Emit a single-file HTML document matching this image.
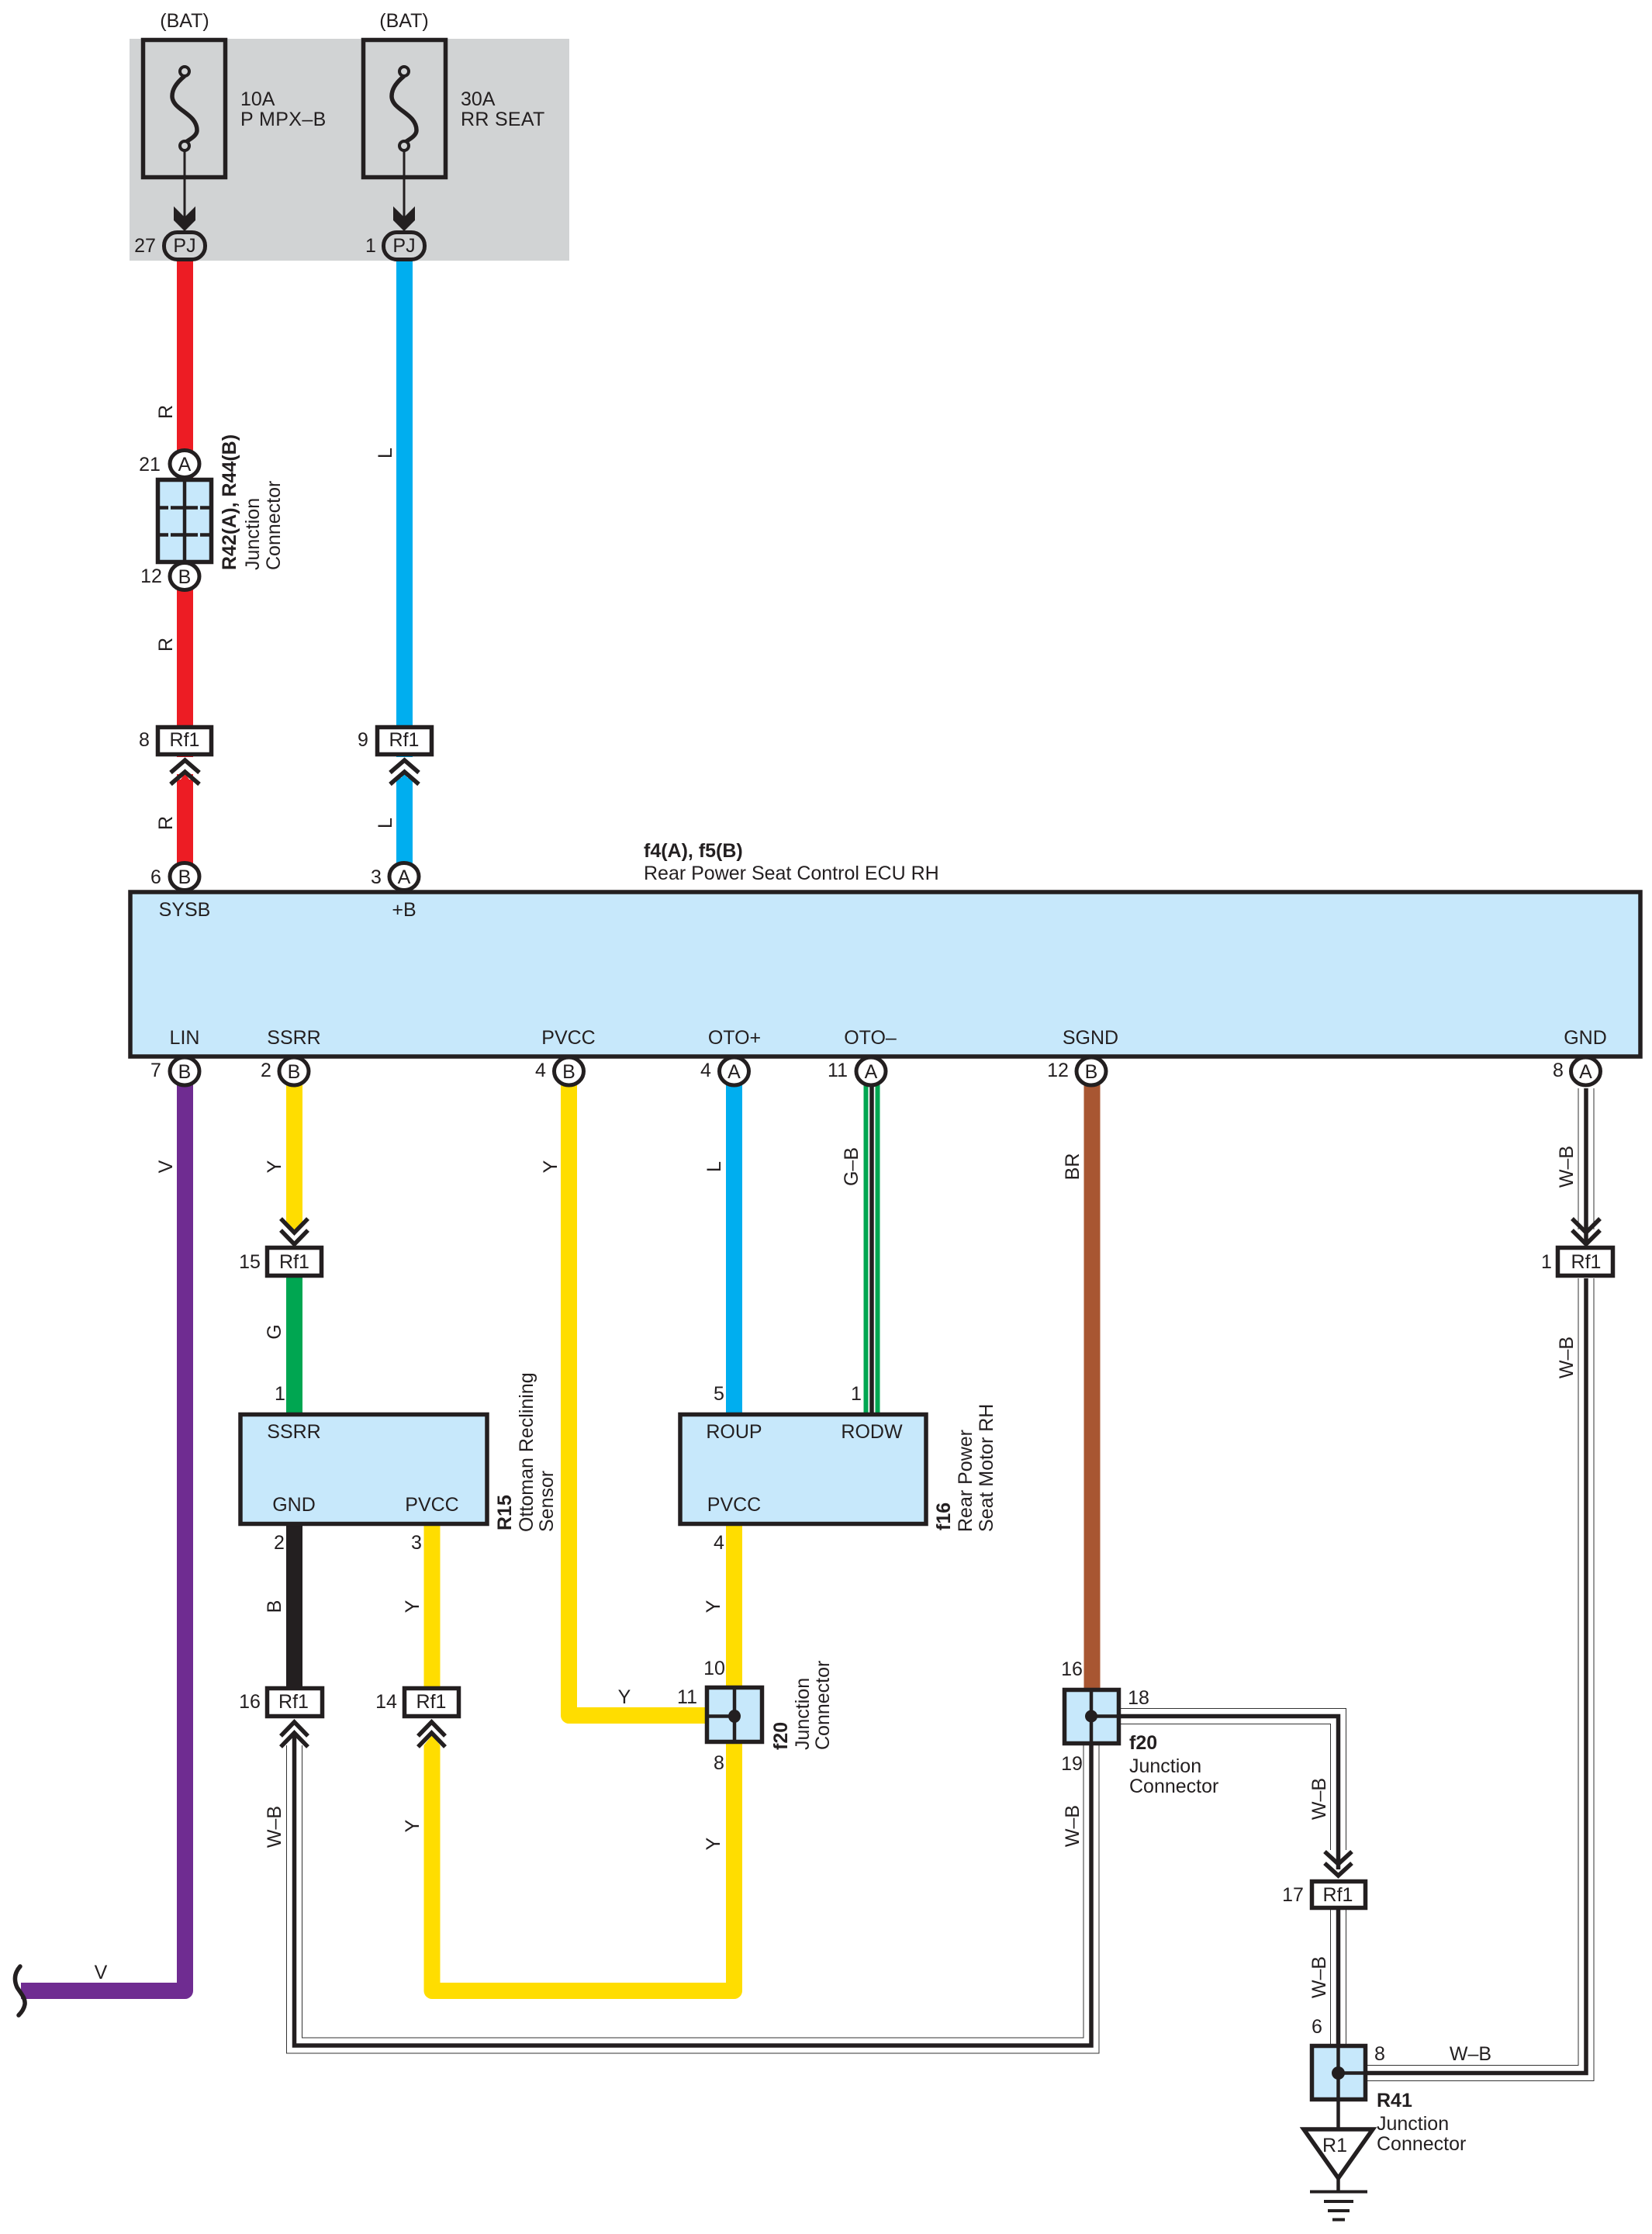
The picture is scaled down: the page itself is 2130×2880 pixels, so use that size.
<!DOCTYPE html>
<html><head><meta charset="utf-8"><style>
html,body{margin:0;padding:0;background:#fff}
svg{display:block}
text{font-family:"Liberation Sans",sans-serif;font-size:25px;fill:#231f20}
.c{text-anchor:middle}
.b{font-weight:bold}
.w{fill:none;stroke-width:21;stroke-linejoin:round}
.o{fill:none;stroke:#333;stroke-width:21;stroke-linejoin:miter}
.i{fill:none;stroke:#fff;stroke-width:19;stroke-linejoin:miter}
.k{fill:none;stroke:#231f20;stroke-width:5.5;stroke-linejoin:miter}
.s{stroke:#231f20;stroke-width:5.5;fill:none}
.bx{stroke:#231f20;stroke-width:5.5;fill:#c7e8fb}
.rf{stroke:#231f20;stroke-width:5.5;fill:#fff}
.ov{stroke:#231f20;stroke-width:5;fill:#fff}
</style></head><body>
<svg xmlns="http://www.w3.org/2000/svg" width="2130" height="2880" viewBox="0 0 2130 2880">
<rect width="2130" height="2880" fill="#fff"/>
<rect x="167" y="50" width="567" height="286" fill="#d1d3d4"/>

<!-- fuses -->
<rect x="184.500" y="51.500" width="106" height="177" fill="none" stroke="#231f20" stroke-width="5.500"/>
<rect x="468.500" y="51.500" width="106" height="177" fill="none" stroke="#231f20" stroke-width="5.500"/>
<path class="s" d="M238 98C226 108 222 116 222 124C222 142 254 146 254 168C254 174 248 178 238 184"/>
<path class="s" d="M521 98C509 108 505 116 505 124C505 142 537 146 537 168C537 174 531 178 521 184"/>
<circle cx="238" cy="92" r="6" fill="#d1d3d4" stroke="#231f20" stroke-width="4"/>
<circle cx="238" cy="188" r="6" fill="#d1d3d4" stroke="#231f20" stroke-width="4"/>
<circle cx="521" cy="92" r="6" fill="#d1d3d4" stroke="#231f20" stroke-width="4"/>
<circle cx="521" cy="188" r="6" fill="#d1d3d4" stroke="#231f20" stroke-width="4"/>
<path d="M238 194V285M521 194V285" stroke="#231f20" stroke-width="3"/>
<polygon points="224,266 238,280 252,266 252,284 238,298 224,284" fill="#231f20"/>
<polygon points="507,266 521,280 535,266 535,284 521,298 507,284" fill="#231f20"/>

<!-- coloured wires -->
<path class="w" stroke="#ed1c24" d="M238.500 336V1000"/>
<polygon points="228,1012 238.500,997 249,1012" fill="#ed1c24"/>
<path class="w" stroke="#ed1c24" d="M238.500 1005V1115"/>
<path class="w" stroke="#00aeef" d="M521.500 336V1115"/>
<polygon points="511,1005 521.500,997 532,1005" fill="#00aeef"/>
<rect x="511" y="976" width="21" height="27" fill="#fff"/>
<rect x="228" y="976" width="21" height="22" fill="#fff"/>
<polygon points="511,1010 521.500,998 532,1010" fill="#00aeef"/>
<path class="w" stroke="#6f2c91" d="M238.500 1395V2566.500H27"/>
<path class="w" stroke="#ffdd00" d="M379.500 1395V1580"/>
<polygon points="369,1575 379.500,1588 390,1575" fill="#ffdd00"/>
<path class="w" stroke="#00a651" d="M379.500 1645V1825"/>
<path class="w" stroke="#ffdd00" d="M733.500 1395V2211.500H915"/>
<path class="w" stroke="#00aeef" d="M946.500 1395V1825"/>
<path fill="none" stroke="#00a651" stroke-width="21" d="M1124 1395V1825"/>
<path fill="none" stroke="#fff" stroke-width="9" d="M1124 1395V1825"/>
<path fill="none" stroke="#231f20" stroke-width="5.500" d="M1124 1395V1825"/>
<path class="w" stroke="#a85632" d="M1408 1395V2180"/>
<path class="w" stroke="#231f20" d="M379.500 1965V2180"/>
<path class="w" stroke="#ffdd00" d="M557 1965V2180"/>
<path class="w" stroke="#ffdd00" d="M946.500 1965V2180"/>
<path class="w" stroke="#ffdd00" d="M557 2250V2566.500H946.500V2245"/>
<polygon points="546.500,2250 557,2237 567.500,2250" fill="#ffdd00"/>

<!-- W-B wires -->
<g>
<path class="o" d="M379.500 2250V2637H1407V2250"/><path class="i" d="M379.500 2250V2637H1407V2250"/><path class="k" d="M379.500 2238V2637H1407V2212"/>
<path class="o" d="M1445 2212.500H1725.500V2385"/><path class="i" d="M1445 2212.500H1725.500V2385"/><path class="k" d="M1407 2212.500H1725.500V2410"/>
<path class="o" d="M1725.500 2462V2640"/><path class="i" d="M1725.500 2462V2640"/><path class="k" d="M1725.500 2462V2672"/>
<path class="o" d="M2045 1403V1585"/><path class="i" d="M2045 1403V1585"/><path class="k" d="M2045 1403V1603"/>
<path class="o" d="M2045 1648V2672.500H1763"/><path class="i" d="M2045 1648V2672.500H1763"/><path class="k" d="M2045 1648V2672.500H1725"/>
</g>

<!-- squiggle -->
<path d="M26 2535C18 2544 18 2553 22 2562C27 2570 33 2576 32 2584C31 2590 28 2594 24 2598" fill="none" stroke="#231f20" stroke-width="5.500" stroke-linecap="round"/>

<!-- chevrons up -->
<path class="s" d="M220 996L238.500 980L257 996M220 1011L238.500 995L257 1011"/>
<path class="s" d="M503 996L521.500 980L540 996M503 1011L521.500 995L540 1011"/>
<path class="s" d="M362 2238L379.500 2220L397 2238M362 2252L379.500 2234L397 2252"/>
<path class="s" d="M539 2238L556.500 2220L574 2238M539 2252L556.500 2234L574 2252"/>
<!-- chevrons down -->
<path class="s" d="M362 1571L379.500 1589L397 1571M362 1586L379.500 1604L397 1586"/>
<path class="s" d="M2027 1571L2045 1589L2063 1571M2027 1586L2045 1604L2063 1586"/>
<path class="s" d="M1708 2387L1725.500 2403L1743 2387M1708 2402L1725.500 2418L1743 2402"/>

<!-- Components -->
<rect class="bx" x="168" y="1150" width="1947" height="212"/>
<rect class="bx" x="310" y="1823.500" width="318" height="141"/>
<rect class="bx" x="877" y="1823.500" width="317" height="141"/>
<rect class="bx" x="203.500" y="618.500" width="69" height="106"/>
<path d="M238 618V726" stroke="#231f20" stroke-width="4.500"/>
<path d="M206 654.500H217M220 654.500H255M258 654.500H270M206 689.500H217M220 689.500H255M258 689.500H270" stroke="#231f20" stroke-width="4.500"/>

<!-- Rf1 boxes -->
<rect class="rf" x="203.500" y="937.500" width="69" height="35"/>
<rect class="rf" x="486.500" y="937.500" width="70" height="35"/>
<rect class="rf" x="344.500" y="1608.500" width="70" height="36"/>
<rect class="rf" x="2008.500" y="1608.500" width="71" height="36"/>
<rect class="rf" x="344.500" y="2176.500" width="71" height="36"/>
<rect class="rf" x="521.500" y="2176.500" width="70" height="36"/>
<rect class="rf" x="1691.500" y="2425.500" width="69" height="34"/>

<!-- junction boxes -->
<rect class="bx" x="911.500" y="2175.500" width="71" height="70"/>
<path d="M947 2174V2248M911 2212.500H947" stroke="#231f20" stroke-width="4.500"/>
<ellipse cx="947" cy="2212.500" rx="8" ry="8.500" fill="#231f20"/>
<rect class="bx" x="1372.500" y="2178.500" width="70" height="69"/>
<path d="M1407 2177V2250M1407 2212.500H1445" stroke="#231f20" stroke-width="4.500"/>
<circle cx="1407" cy="2212.500" r="8" fill="#231f20"/>
<rect class="bx" x="1691.500" y="2637.500" width="69" height="69"/>
<path d="M1725.500 2636V2743M1725.500 2672.500H1763" stroke="#231f20" stroke-width="4.500"/>
<circle cx="1725.500" cy="2672.500" r="8.500" fill="#231f20"/>

<!-- ground -->
<polygon points="1681,2745 1770,2745 1725.500,2808" fill="#fff" stroke="#231f20" stroke-width="5.500"/>
<path d="M1725.500 2807V2825" stroke="#231f20" stroke-width="4.500"/>
<path d="M1689 2825.500H1763M1707 2838H1745M1712 2850H1740M1718 2861.500H1734" stroke="#231f20" stroke-width="4"/>

<!-- connector ovals -->
<rect x="211.500" y="299.500" width="53" height="35" rx="17" fill="#d1d3d4" stroke="#231f20" stroke-width="5"/>
<rect x="494.500" y="299.500" width="53" height="35" rx="17" fill="#d1d3d4" stroke="#231f20" stroke-width="5"/>
<ellipse class="ov" cx="238" cy="598" rx="19" ry="17.500"/>
<ellipse class="ov" cx="238" cy="743" rx="19" ry="17.500"/>
<ellipse class="ov" cx="238" cy="1130" rx="19" ry="17.500"/>
<ellipse class="ov" cx="521" cy="1130" rx="19" ry="17.500"/>
<ellipse class="ov" cx="238" cy="1381" rx="19" ry="18"/>
<ellipse class="ov" cx="379" cy="1381" rx="19" ry="18"/>
<ellipse class="ov" cx="733.500" cy="1381" rx="19" ry="18"/>
<ellipse class="ov" cx="946.500" cy="1381" rx="19" ry="18"/>
<ellipse class="ov" cx="1123" cy="1381" rx="19" ry="18"/>
<ellipse class="ov" cx="1407" cy="1381" rx="19" ry="18"/>
<ellipse class="ov" cx="2044.500" cy="1381" rx="19" ry="18"/>

<!-- Top text -->
<text class="c" x="238" y="35">(BAT)</text>
<text class="c" x="521" y="35">(BAT)</text>
<text x="310" y="136">10A</text>
<text x="310" y="162" letter-spacing=".4">P MPX–B</text>
<text x="594" y="136">30A</text>
<text x="594" y="162" letter-spacing=".3">RR SEAT</text>
<text class="c" x="187" y="325">27</text>
<text class="c" x="478" y="325">1</text>
<text class="c" x="238" y="325">PJ</text>
<text class="c" x="521" y="325">PJ</text>

<text class="c" x="238" y="607">A</text>
<text class="c" x="238" y="752">B</text>
<text class="c" x="193" y="607">21</text>
<text class="c" x="195" y="751">12</text>
<text class="c" x="238" y="962">Rf1</text>
<text class="c" x="521" y="962">Rf1</text>
<text class="c" x="186" y="962">8</text>
<text class="c" x="468" y="962">9</text>
<text class="c" x="201" y="1139">6</text>
<text class="c" x="485" y="1139">3</text>
<text class="c" x="238" y="1139">B</text>
<text class="c" x="521" y="1139">A</text>

<text class="b" x="830" y="1105">f4(A), f5(B)</text>
<text x="830" y="1134">Rear Power Seat Control ECU RH</text>
<text class="c" x="238" y="1181">SYSB</text>
<text class="c" x="521" y="1181">+B</text>
<text class="c" x="238" y="1346">LIN</text>
<text class="c" x="379" y="1346">SSRR</text>
<text class="c" x="733" y="1346">PVCC</text>
<text class="c" x="947" y="1346">OTO+</text>
<text class="c" x="1122" y="1346">OTO–</text>
<text class="c" x="1406" y="1346">SGND</text>
<text class="c" x="2044" y="1346">GND</text>

<text class="c" x="238" y="1390">B</text>
<text class="c" x="379" y="1390">B</text>
<text class="c" x="733.500" y="1390">B</text>
<text class="c" x="946.500" y="1390">A</text>
<text class="c" x="1123" y="1390">A</text>
<text class="c" x="1407" y="1390">B</text>
<text class="c" x="2044.500" y="1390">A</text>
<text class="c" x="201" y="1388">7</text>
<text class="c" x="343" y="1388">2</text>
<text class="c" x="697" y="1388">4</text>
<text class="c" x="910" y="1388">4</text>
<text class="c" x="1080" y="1388">11</text>
<text class="c" x="1364" y="1388">12</text>
<text class="c" x="2009" y="1388">8</text>

<text class="c" x="379.500" y="1635">Rf1</text>
<text class="c" x="2045" y="1635">Rf1</text>
<text class="c" x="322" y="1635">15</text>
<text class="c" x="1994" y="1635">1</text>

<text class="c" x="361" y="1805">1</text>
<text class="c" x="927" y="1805">5</text>
<text class="c" x="1104" y="1805">1</text>
<text class="c" x="379" y="1854">SSRR</text>
<text class="c" x="946.500" y="1854">ROUP</text>
<text class="c" x="1124" y="1854">RODW</text>
<text class="c" x="379" y="1948">GND</text>
<text class="c" x="557" y="1948">PVCC</text>
<text class="c" x="946.500" y="1948">PVCC</text>
<text class="c" x="360" y="1997">2</text>
<text class="c" x="537" y="1997">3</text>
<text class="c" x="927" y="1997">4</text>

<text class="c" x="378.500" y="2202">Rf1</text>
<text class="c" x="556" y="2202">Rf1</text>
<text class="c" x="322" y="2202">16</text>
<text class="c" x="498" y="2202">14</text>
<text class="c" x="921" y="2159">10</text>
<text class="c" x="886" y="2196">11</text>
<text class="c" x="927" y="2281">8</text>
<text class="c" x="805" y="2196">Y</text>
<text class="c" x="1382" y="2160">16</text>
<text class="c" x="1468" y="2197">18</text>
<text class="c" x="1382" y="2282">19</text>
<text class="b" x="1456" y="2255">f20</text>
<text x="1456" y="2285">Junction</text>
<text x="1456" y="2311">Connector</text>
<text class="c" x="1725" y="2451">Rf1</text>
<text class="c" x="1667" y="2451">17</text>
<text class="c" x="1698" y="2621">6</text>
<text class="c" x="1779" y="2656">8</text>
<text class="c" x="1896" y="2656">W–B</text>
<text class="b" x="1767" y="2702" display="none"></text>
<text class="b" x="1775" y="2716">R41</text>
<text x="1775" y="2746">Junction</text>
<text x="1775" y="2772">Connector</text>
<text class="c" x="1721" y="2774">R1</text>
<text class="c" x="130" y="2551">V</text>

<!-- rotated wire labels -->
<g class="c">
<text class="c" transform="translate(222,531) rotate(-90)">R</text>
<text class="c" transform="translate(222,831) rotate(-90)">R</text>
<text class="c" transform="translate(222,1061) rotate(-90)">R</text>
<text class="c" transform="translate(505,584) rotate(-90)">L</text>
<text class="c" transform="translate(505,1061) rotate(-90)">L</text>
<text class="c" transform="translate(222,1504) rotate(-90)">V</text>
<text class="c" transform="translate(362,1504) rotate(-90)">Y</text>
<text class="c" transform="translate(718,1504) rotate(-90)">Y</text>
<text class="c" transform="translate(929,1504) rotate(-90)">L</text>
<text class="c" transform="translate(1106,1504) rotate(-90)">G–B</text>
<text class="c" transform="translate(1391,1504) rotate(-90)">BR</text>
<text class="c" transform="translate(2028,1504) rotate(-90)">W–B</text>
<text class="c" transform="translate(2028,1750) rotate(-90)">W–B</text>
<text class="c" transform="translate(362,1717) rotate(-90)">G</text>
<text class="c" transform="translate(362,2071) rotate(-90)">B</text>
<text class="c" transform="translate(540,2071) rotate(-90)">Y</text>
<text class="c" transform="translate(928,2071) rotate(-90)">Y</text>
<text class="c" transform="translate(540,2354) rotate(-90)">Y</text>
<text class="c" transform="translate(928,2377) rotate(-90)">Y</text>
<text class="c" transform="translate(362,2355) rotate(-90)">W–B</text>
<text class="c" transform="translate(1391,2354) rotate(-90)">W–B</text>
<text class="c" transform="translate(1709,2319) rotate(-90)">W–B</text>
<text class="c" transform="translate(1709,2549) rotate(-90)">W–B</text>
</g>

<!-- rotated titles -->
<text class="b" transform="translate(304,735) rotate(-90)">R42(A), R44(B)</text>
<text transform="translate(334,735) rotate(-90)">Junction</text>
<text transform="translate(361,735) rotate(-90)">Connector</text>
<text class="b" transform="translate(659,1973) rotate(-90)">R15</text>
<text transform="translate(687,1975) rotate(-90)">Ottoman Reclining</text>
<text transform="translate(713,1975) rotate(-90)">Sensor</text>
<text class="b" transform="translate(1225,1973) rotate(-90)">f16</text>
<text transform="translate(1253,1975) rotate(-90)">Rear Power</text>
<text transform="translate(1280,1975) rotate(-90)">Seat Motor RH</text>
<text class="b" transform="translate(1015,2256) rotate(-90)">f20</text>
<text transform="translate(1043,2256) rotate(-90)">Junction</text>
<text transform="translate(1069,2256) rotate(-90)">Connector</text>
</svg>
</body></html>
